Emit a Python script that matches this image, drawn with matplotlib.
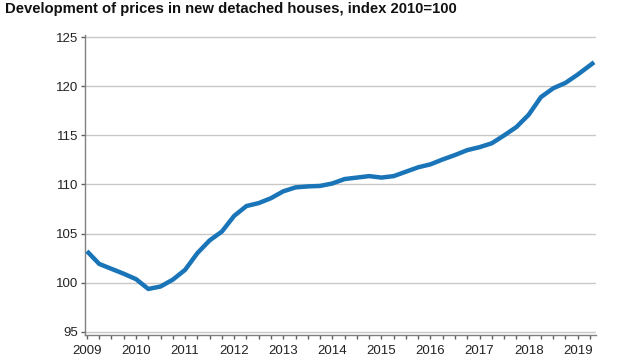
import numpy as np
import matplotlib.pyplot as plt
from matplotlib.ticker import MultipleLocator

# Datos (índice 2010=100)
years = [2009, 2009, 2009, 2009, 2010, 2010, 2010, 2010, 2011, 2011, 2011, 2011,
         2012, 2012, 2012, 2012, 2013, 2013, 2013, 2013, 2014, 2014, 2014, 2014,
         2015, 2015, 2015, 2015, 2016, 2016, 2016, 2016, 2017, 2017, 2017, 2017,
         2018, 2018, 2018, 2018, 2019, 2019]
months = [1, 4, 7, 10] * 10 + [1, 5]
index = [103.2, 101.9, 101.4, 100.9, 100.35, 99.35, 99.6, 100.3, 101.3, 103.0, 104.3, 105.2,
         106.8, 107.8, 108.1, 108.6, 109.3, 109.7, 109.8, 109.85, 110.1, 110.55, 110.7, 110.85,
         110.7, 110.85, 111.3, 111.75, 112.05, 112.55, 113.0, 113.5, 113.8, 114.2, 115.0, 115.85,
         117.1, 118.9, 119.8, 120.35, 121.2, 122.45]

title = 'Development of prices in new detached houses, index 2010=100'

t = np.array(years) + (np.array(months) - 1) / 12

plt.rcParams['font.family'] = ['Liberation Sans', 'DejaVu Sans']

fig = plt.figure(figsize=(6.38, 3.59), dpi=100)
ax = fig.add_axes([0.1332, 0.0669, 0.8008, 0.8356])

ax.plot(t, index, color='#1a75b8', lw=3.2, solid_capstyle='butt', zorder=3)

ax.set_xlim(2008.96, 2019.37)
ax.set_ylim(94.66, 125.23)
ax.set_yticks(np.arange(95, 126, 5))
ax.set_xticks(np.arange(2009, 2020))
ax.xaxis.set_minor_locator(MultipleLocator(0.25))

ax.grid(axis='y', color='#c8c8c8', lw=1.0)
ax.set_axisbelow(True)
for s in ['top', 'right']:
    ax.spines[s].set_visible(False)
for s in ['left', 'bottom']:
    ax.spines[s].set_color('#808080')
    ax.spines[s].set_linewidth(1.0)

ax.tick_params(axis='both', which='both', direction='out', length=3, width=1,
               color='#606060', labelsize=9.5, labelcolor='#222222', pad=2)
ax.tick_params(axis='x', which='major', pad=4)

fig.text(0.008, 0.995, title, fontsize=10.7, fontweight='bold', color='#111111',
         ha='left', va='top')

fig.savefig('out.png', dpi=100)
